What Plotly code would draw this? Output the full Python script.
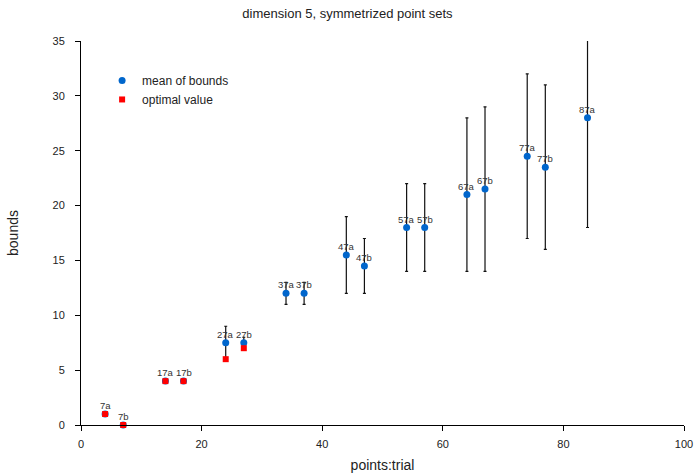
import plotly.graph_objects as go

labels = ["7a", "7b", "17a", "17b", "27a", "27b", "37a", "37b", "47a", "47b",
          "57a", "57b", "67a", "67b", "77a", "77b", "87a"]
points = [4, 7, 14, 17, 24, 27, 34, 37, 44, 47, 54, 57, 64, 67, 74, 77, 84]
mean_bounds = [1, 0, 4, 4, 7.5, 7.5, 12, 12, 15.5, 14.5, 18, 18, 21, 21.5, 24.5, 23.5, 28]
lower_bounds = [1, 0, 4, 4, 6, 7, 11, 11, 12, 12, 14, 14, 14, 14, 17, 16, 18]
upper_bounds = [1, 0, 4, 4, 9, 8, 13, 13, 19, 17, 22, 22, 28, 29, 32, 31, 38]

opt_points = [4, 7, 14, 17, 24, 27]
opt_values = [1, 0, 4, 4, 6, 7]

err_plus = [u - m for u, m in zip(upper_bounds, mean_bounds)]
err_minus = [m - l for m, l in zip(mean_bounds, lower_bounds)]

FONT = "Liberation Sans, Arial, sans-serif"

fig = go.Figure()
fig.add_trace(go.Scatter(
    x=points, y=mean_bounds, mode="markers", name="mean of bounds",
    marker=dict(color="#0066cc", size=7, symbol="circle"),
    error_y=dict(type="data", symmetric=False, array=err_plus, arrayminus=err_minus,
                 color="#111111", thickness=1.2, width=1.5),
    cliponaxis=False,
))
fig.add_trace(go.Scatter(
    x=opt_points, y=opt_values, mode="markers", name="optimal value",
    marker=dict(color="#ff0000", size=6, symbol="square"),
    cliponaxis=False,
))

annotations = [
    dict(x=xv, y=yv, text=lab, showarrow=False, xanchor="center", yanchor="bottom",
         yshift=1, font=dict(size=9.5, color="#333333", family=FONT))
    for xv, yv, lab in zip(points, mean_bounds, labels)
]

fig.update_layout(
    width=695, height=473,
    margin=dict(l=81, r=11, t=41, b=48),
    paper_bgcolor="white", plot_bgcolor="white",
    font=dict(family=FONT, color="#222222"),
    title=dict(text="dimension 5, symmetrized point sets", x=0.5, xanchor="center",
               y=0.982, yanchor="top", font=dict(size=13)),
    showlegend=True,
    legend=dict(x=0.035, y=0.935, xanchor="left", yanchor="top",
                bgcolor="rgba(0,0,0,0)", font=dict(size=12), itemsizing="trace"),
    annotations=annotations,
    xaxis=dict(range=[0, 100], tickvals=[0, 20, 40, 60, 80, 100], showgrid=False,
               zeroline=False, showline=True, linecolor="black", linewidth=1,
               ticks="outside", ticklen=5, tickcolor="black", automargin=False,
               ticklabelstandoff=4,
               title=dict(text="points:trial", font=dict(size=14), standoff=12),
               tickfont=dict(size=11)),
    yaxis=dict(range=[0, 35], tickvals=[0, 5, 10, 15, 20, 25, 30, 35], showgrid=False,
               zeroline=False, showline=True, linecolor="black", linewidth=1,
               ticks="outside", ticklen=5, tickcolor="black", automargin=False,
               ticklabelstandoff=8,
               title=dict(text="bounds", font=dict(size=14), standoff=30),
               tickfont=dict(size=11)),
)

fig.write_html("out.html")
